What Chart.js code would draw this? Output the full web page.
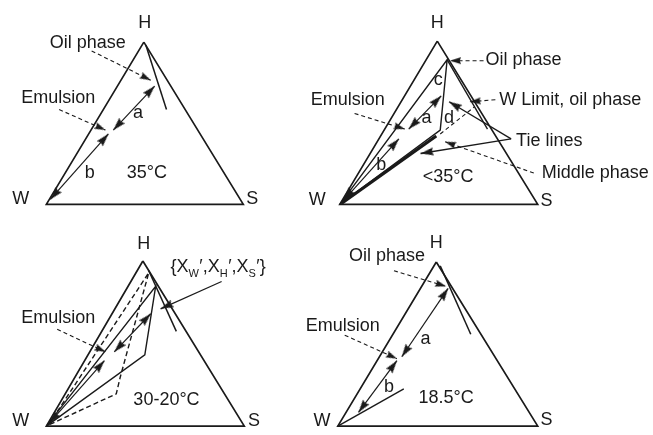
<!DOCTYPE html>
<html>
<head>
<meta charset="utf-8">
<script src="https://cdn.jsdelivr.net/npm/chart.js@4.4.0/dist/chart.umd.min.js"></script>
<style>
  html, body { margin: 0; padding: 0; background: #fff; }
</style>
</head>
<body>
<canvas id="diagram" width="653" height="435"></canvas>
<script>
// points are [x, y] on a 653 x 435 grid (y grows downward)

// top left, 35°C
const tri35 = [[141,38],[42,204],[242,204]];
const oilLine35 = [[143,41],[164,107]];
const arrowA35 = [[152,83],[110,128]];
const arrowB35 = [[105,132],[46,199]];
const oilPtr35 = [[88,47],[148,77]];
const emuPtr35 = [[55,107],[102,128]];

// top right, <35°C
const triLow = [[439,37],[340,204],[541,204]];
const phaseLow = [[340,204],[449,56],[442,128],[340,204]];
const thickLow = [[438,134],[342,203]];
const wLimitLow = [[449,56],[490,127]];
const tieDashLow = [[442,132],[477,104]];
const arrowALow = [[443,93],[410,127]];
const arrowBLow = [[400,137],[343,201]];
const oilPtrLow = [[486,57],[452,57]];
const wLimPtrLow = [[498,97],[472,99]];
const tiePtrLow1 = [[514,137],[451,99]];
const tiePtrLow2 = [[514,137],[422,152]];
const midPtrLow = [[537,172],[447,140]];
const emuPtrLow = [[355,111],[406,127]];

// bottom left, 30-20°C
const tri3020 = [[140,262],[42,431],[243,431]];
const oilLine3020 = [[146,272],[174,334]];
const solid3020 = [[42,431],[153,288],[142,358],[42,431]];
const dashed3020 = [[44,430],[146,274],[117,381],[113,398],[44,430]];
const arrowA3020 = [[148,316],[111,355]];
const arrowB3020 = [[101,364],[45,428]];
const xPtr3020 = [[220,283],[158,311]];
const emuPtr3020 = [[53,332],[102,355]];

// bottom right, 18.5°C
const tri185 = [[438,263],[338,431],[541,431]];
const oilLine185 = [[442,267],[473,337]];
const lowLine185 = [[338,431],[405,393]];
const arrowA185 = [[450,290],[403,360]];
const arrowB185 = [[398,364],[359,417]];
const oilPtr185 = [[395,272],[448,288]];
const emuPtr185 = [[345,338],[398,362]];

// text: [text, x, y, align]
const vertexLabels = [
  ['H',142,18,'center'],['W',16,199,'center'],['S',251,199,'center'],
  ['H',439,18,'center'],['W',317,200,'center'],['S',550,201,'center'],
  ['H',141,245,'center'],['W',16,426,'center'],['S',253,426,'center'],
  ['H',438,244,'center'],['W',322,426,'center'],['S',550,425,'center']
];
const textLabels = [
  ['Oil phase',84,39,'center'],['Emulsion',54,95,'center'],['a',135,111,'center'],
  ['b',86,172,'center'],['35°C',144,172,'center'],
  ['Oil phase',488,56,'left'],['W Limit, oil phase',502,97,'left'],
  ['Tie lines',519,139,'left'],['Middle phase',545,172,'left'],
  ['Emulsion',348,97,'center'],['c',440,77,'center'],['a',428,116,'center'],
  ['d',451,116,'center'],['b',382,164,'center'],['<35°C',450,176,'center'],
  ['Emulsion',54,320,'center'],['30-20°C',164,404,'center'],
  ['Oil phase',388,257,'center'],['Emulsion',343,329,'center'],
  ['a',427,342,'center'],['b',390,391,'center'],['18.5°C',448,402,'center']
];
// {X_W', X_H', X_S'} label, pieces: [text, isSubscript]
const compLabel = { x: 168, y: 268, parts: [['{X',0],['W',1],['\u2032,X',0],['H',1],['\u2032,X',0],['S',1],['\u2032}',0]] };

const INK = '#1a1a1a';
const FONT = '"Liberation Sans", Arial, Helvetica, sans-serif';

function pts(list) { return list.map(p => ({x: p[0], y: p[1]})); }
function closed(list) { return list.concat([list[0]]); }

function line(list, width, dash) {
  return {
    data: pts(list), showLine: true, pointRadius: 0, fill: false, tension: 0,
    borderColor: INK, borderWidth: width, borderDash: dash || [],
    borderCapStyle: 'butt', borderJoinStyle: 'miter', order: 2
  };
}

function makeHead(len, half) {
  const c = document.createElement('canvas');
  c.width = len * 2; c.height = half * 2 + 2;
  const g = c.getContext('2d');
  g.fillStyle = INK;
  g.beginPath();
  g.moveTo(len, half + 1);
  g.lineTo(0, 1);
  g.lineTo(len * 0.12, half + 1);
  g.lineTo(0, half * 2 + 1);
  g.closePath();
  g.fill();
  return c;
}

function angle(tail, tip) {
  return Math.atan2(tip[1] - tail[1], tip[0] - tail[0]) * 180 / Math.PI;
}

const smallHeads = [], bigHeads = [];
function head(list, arr, both) {
  list.push({ p: arr[1], r: angle(arr[0], arr[1]) });
  if (both) list.push({ p: arr[0], r: angle(arr[1], arr[0]) });
}
[arrowA35, arrowB35, arrowALow, arrowA3020, arrowB3020, arrowA185, arrowB185].forEach(a => head(bigHeads, a, true));
head(bigHeads, [arrowBLow[1], arrowBLow[0]], false);
head(bigHeads, tiePtrLow1, false);
head(bigHeads, tiePtrLow2, false);
head(bigHeads, xPtr3020, false);
[oilPtr35, emuPtr35, oilPtrLow, wLimPtrLow, midPtrLow, emuPtrLow, emuPtr3020, oilPtr185, emuPtr185].forEach(a => head(smallHeads, a, false));

function headSet(list, img) {
  return {
    data: list.map(h => ({x: h.p[0], y: h.p[1]})),
    pointRotation: list.map(h => h.r),
    pointStyle: img, pointRadius: 2, showLine: false, order: 0
  };
}

const DASH = [4, 3];
const datasets = [
  headSet(bigHeads, makeHead(13, 4)),
  headSet(smallHeads, makeHead(11, 3.5)),
  headSet([{ p: arrowBLow[1], r: angle(arrowBLow[0], arrowBLow[1]) }], makeHead(15, 5)),
  // 35°C
  line(closed(tri35), 1.7), line(oilLine35, 1.5),
  line(arrowA35, 1.2), line(arrowB35, 1.2),
  line(oilPtr35, 1.1, DASH), line(emuPtr35, 1.1, DASH),
  // <35°C
  line(closed(triLow), 1.7), line(phaseLow, 1.4), line(thickLow, 3),
  line(wLimitLow, 1.4), line(tieDashLow, 1.1, DASH),
  line(arrowALow, 1.2), line(arrowBLow, 1.2),
  line(oilPtrLow, 1.1, DASH), line(wLimPtrLow, 1.1, DASH),
  line(tiePtrLow1, 1.3), line(tiePtrLow2, 1.3),
  line(midPtrLow, 1.1, DASH), line(emuPtrLow, 1.1, DASH),
  // 30-20°C
  line(closed(tri3020), 1.7), line(oilLine3020, 1.5),
  line(solid3020, 1.4), line(dashed3020, 1.4, [5, 3]),
  line(arrowA3020, 1.2), line(arrowB3020, 1.2),
  line(xPtr3020, 1.2), line(emuPtr3020, 1.1, DASH),
  // 18.5°C
  line(closed(tri185), 1.7), line(oilLine185, 1.5), line(lowLine185, 1.4),
  line(arrowA185, 1.2), line(arrowB185, 1.2),
  line(oilPtr185, 1.1, DASH), line(emuPtr185, 1.1, DASH)
];

const textPlugin = {
  id: 'diagramText',
  afterDatasetsDraw(chart) {
    const ctx = chart.ctx, sx = chart.scales.x, sy = chart.scales.y;
    ctx.save();
    ctx.fillStyle = INK;
    ctx.textBaseline = 'middle';
    ctx.font = '18px ' + FONT;
    vertexLabels.concat(textLabels).forEach(t => {
      ctx.textAlign = t[3];
      ctx.fillText(t[0], sx.getPixelForValue(t[1]), sy.getPixelForValue(t[2]));
    });
    ctx.textAlign = 'left';
    let x = sx.getPixelForValue(compLabel.x);
    const y = sy.getPixelForValue(compLabel.y);
    compLabel.parts.forEach(p => {
      ctx.font = (p[1] ? '11px ' : '18px ') + FONT;
      ctx.fillText(p[0], x, p[1] ? y + 7 : y);
      x += ctx.measureText(p[0]).width + (p[1] ? 0.5 : 0);
    });
    ctx.restore();
  }
};

new Chart(document.getElementById('diagram'), {
  type: 'scatter',
  data: { datasets: datasets },
  options: {
    responsive: false,
    animation: false,
    events: [],
    layout: { padding: 0 },
    plugins: { legend: { display: false }, tooltip: { enabled: false } },
    scales: {
      x: { type: 'linear', min: 0, max: 653, display: false },
      y: { type: 'linear', min: 0, max: 435, reverse: true, display: false }
    }
  },
  plugins: [textPlugin]
});
</script>
</body>
</html>
